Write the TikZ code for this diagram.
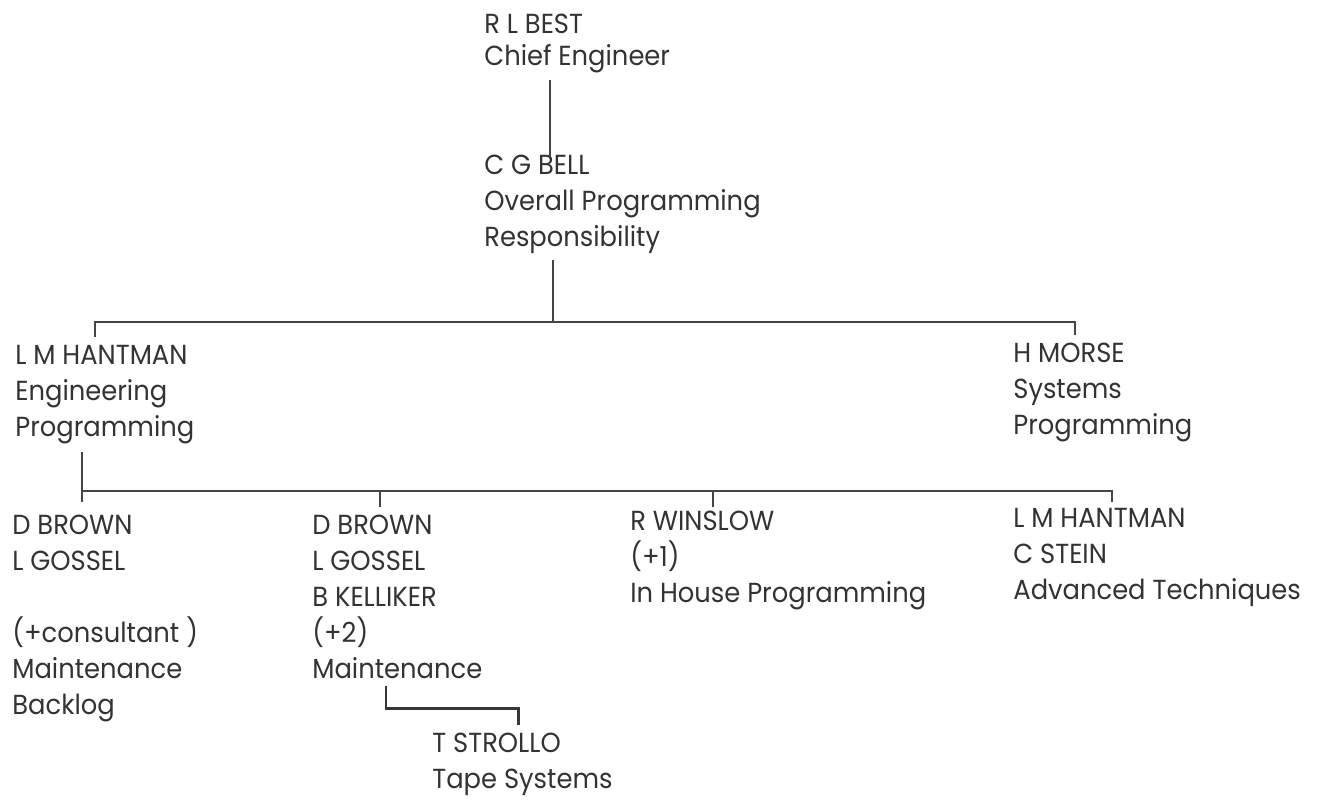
\documentclass[tikz,border=0pt]{standalone}
\usepackage{fontspec}
\usepackage{tikz}
\usetikzlibrary{calc,positioning}
\newfontfamily\orgfont[FakeStretch=0.935]{Poppins}
\definecolor{typeink}{rgb}{0.20, 0.20, 0.20}
\definecolor{lineink}{rgb}{0.27, 0.27, 0.27}
\tikzset{
  person/.style={anchor=north west, inner sep=0pt, align=left, text=typeink,
    font=\orgfont\fontsize{15.7}{20.5}\selectfont},
  link/.style={draw=lineink, line width=1.1pt},
  boldlink/.style={draw=lineink!80!black, line width=1.7pt}
}
\begin{document}
\begin{tikzpicture}[x=0.02cm, y=-0.02cm]
        \useasboundingbox (0,0) rectangle (1321,804);

        % Top of the chart
        \node[person, font=\orgfont\fontsize{15.7}{18.3}\selectfont] (best) at (484,14) {R L BEST\\Chief Engineer};
        \node[person] (bell) at (484,155) {C G BELL\\Overall Programming\\Responsibility};

        % Second level
        \node[person] (hantman) at (15,345) {L M HANTMAN\\Engineering\\Programming};
        \node[person] (morse) at (1013,343) {H MORSE\\Systems\\Programming};

        % Groups under L M Hantman
        \node[person] (backlog) at (12,515) {D BROWN\\L GOSSEL\\[20.5pt](+consultant )\\Maintenance\\Backlog};
        \node[person] (maint) at (312,515) {D BROWN\\L GOSSEL\\B KELLIKER\\(+2)\\Maintenance};
        \node[person] (inhouse) at (630,511) {R WINSLOW\\(+1)\\In House Programming};
        \node[person] (advanced) at (1013,508) {L M HANTMAN\\C STEIN\\Advanced Techniques};
        \node[person] (strollo) at (432,733) {T STROLLO\\Tape Systems};

        \coordinate (bus1) at (553,322);
        \coordinate (bus2) at (82,491);

        % Connectors
        \draw[link] ($(best.south west)+(66,6)$) -- ($(bell.north west)+(66,2)$);
        \draw[link] ($(bell.south west)+(69,6)$) -- (bus1);
        \draw[link] ($(hantman.north west)+(80,-8)$) |- (bus1) -| ($(morse.north west)+(62,-8)$);

        \draw[link] ($(hantman.south west)+(67,8)$) -- ($(backlog.north west)+(70,-13)$);
        \draw[link] (bus2) -| ($(advanced.north west)+(99,-6)$);
        \draw[link] ($(maint.north west)+(68,-8)$) |- (bus2);
        \draw[link] ($(inhouse.north west)+(83,-4)$) |- (bus2);

        \draw[boldlink] ($(maint.south west)+(74,7)$) |- ($(strollo.north west)+(86,-25)$)
            -- ($(strollo.north west)+(86,-8)$);
    \end{tikzpicture}
\end{document}
